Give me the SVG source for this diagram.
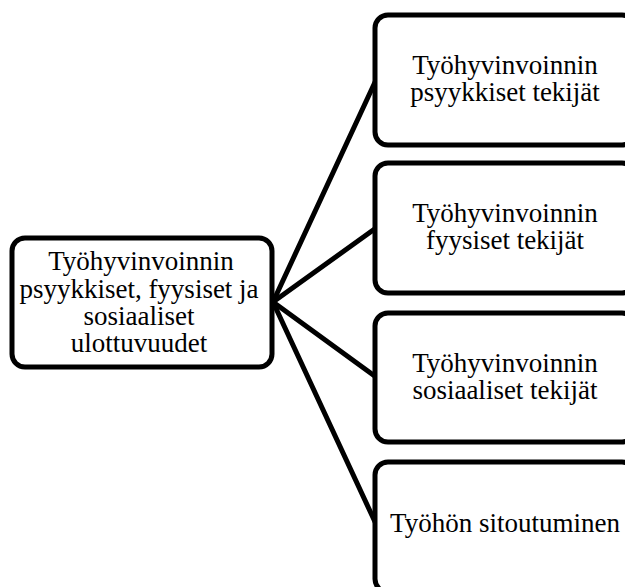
<svg xmlns="http://www.w3.org/2000/svg" width="625" height="587" viewBox="0 0 625 587">
<style>
.box{fill:#fff;stroke:#000;stroke-width:5}
.t{font-size:27px;fill:#000;text-anchor:middle}
.c{stroke:#000;stroke-width:5;fill:none;stroke-linecap:round}
</style>
<rect width="625" height="587" fill="#fff"/>
<g id="connectors">
<line class="c" x1="273" y1="302" x2="376" y2="80"/>
<line class="c" x1="273" y1="302" x2="376" y2="228"/>
<line class="c" x1="273" y1="302" x2="376" y2="377"/>
<line class="c" x1="273" y1="302" x2="376" y2="524"/>
</g>
<g font-family="'Liberation Serif', 'Times New Roman', Times, serif">
<g id="root">
<rect class="box" x="12" y="238" width="260" height="129" rx="13"/>
<text class="t" x="141" y="270">Työhyvinvoinnin</text>
<text class="t" x="139" y="298">psyykkiset, fyysiset ja</text>
<text class="t" x="139" y="325">sosiaaliset</text>
<text class="t" x="139" y="352">ulottuvuudet</text>
</g>
<g id="n1">
<rect class="box" x="375" y="15" width="260" height="130" rx="13"/>
<text class="t" x="505" y="74">Työhyvinvoinnin</text>
<text class="t" x="505" y="101">psyykkiset tekijät</text>
</g>
<g id="n2">
<rect class="box" x="375" y="163" width="260" height="130" rx="13"/>
<text class="t" x="505" y="222">Työhyvinvoinnin</text>
<text class="t" x="505" y="249">fyysiset tekijät</text>
</g>
<g id="n3">
<rect class="box" x="375" y="313" width="260" height="129" rx="13"/>
<text class="t" x="505" y="372">Työhyvinvoinnin</text>
<text class="t" x="505" y="399">sosiaaliset tekijät</text>
</g>
<g id="n4">
<rect class="box" x="375" y="462" width="260" height="130" rx="13"/>
<text class="t" x="505" y="532">Työhön sitoutuminen</text>
</g>
</g>
</svg>
